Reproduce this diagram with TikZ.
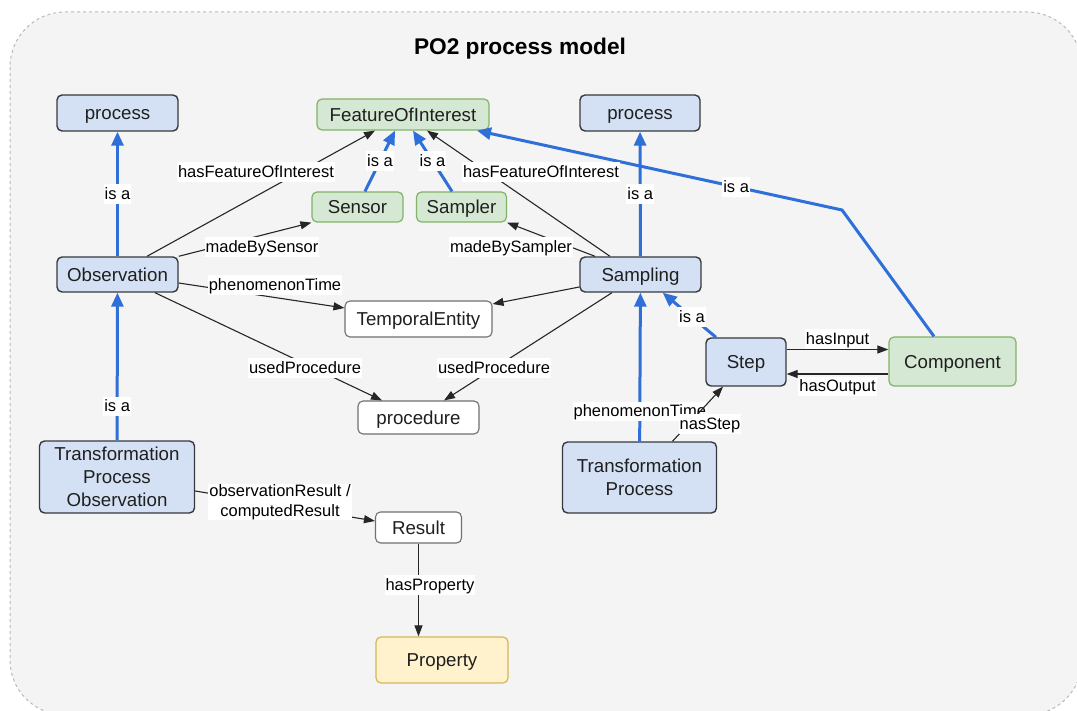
\documentclass[tikz,border=0pt]{standalone}
\usepackage{fontspec}
\setmainfont{Liberation Sans}
\usetikzlibrary{arrows.meta,calc}

\definecolor{classfill}{HTML}{D4E1F5}
\definecolor{classline}{HTML}{36393D}
\definecolor{greenfill}{HTML}{D5E8D4}
\definecolor{greenline}{HTML}{82B366}
\definecolor{plainline}{HTML}{707070}
\definecolor{yellowfill}{HTML}{FFF2CC}
\definecolor{yellowline}{HTML}{D6B656}
\definecolor{isablue}{HTML}{2E6FD8}
\definecolor{panelfill}{HTML}{F4F4F4}

\begin{document}
\begin{tikzpicture}[x=1pt,y=-1pt,% pixel coordinates, y running down
        every node/.style={font=\fontsize{18.7}{23}\selectfont, text=black!88},
        basebox/.style={draw, rounded corners=5pt, line width=1.4pt, inner sep=0pt, align=center},
        box/.style={basebox, text height=13.4pt, text depth=0pt},% one line, caps centred
        bluebox/.style={box, draw=classline, fill=classfill},
        bluemulti/.style={basebox, draw=classline, fill=classfill},
        greenbox/.style={box, draw=greenline, fill=greenfill, line width=1.2pt},
        plainbox/.style={box, draw=plainline, fill=white, line width=1.1pt},
        yellowbox/.style={box, draw=yellowline, fill=yellowfill, line width=1.2pt},
        isa/.style={draw=isablue, line width=3pt, -{Triangle[length=14pt,width=12pt]}},
        rel/.style={draw=black!85, line width=1.1pt, -{Triangle[length=11pt,width=8pt]}},
        lbl/.style={fill=white, inner sep=1pt, text height=14pt, text depth=3.5pt,
                font=\fontsize{16.5}{19.5}\selectfont, text=black}]
\useasboundingbox (0,0) rectangle (1077,711);
\clip (0,0) rectangle (1077,711);
\draw[draw=gray!55, line width=1pt, dash pattern=on 3pt off 3pt, fill=panelfill, rounded corners=55pt]
        (10,12) rectangle (1082,715); % panel runs past the right and bottom edge
\node[font=\fontsize{22.7}{26}\selectfont\bfseries, text=black] (title) at (520,49) {PO2 process model};

% classes
\node[bluebox, minimum width=121pt, minimum height=36pt] (processleft) at (117.5,113) {process};
\node[greenbox, minimum width=172pt, minimum height=31pt] (feature) at (403,114.5) {FeatureOfInterest};
\node[bluebox, minimum width=120pt, minimum height=36pt] (processright) at (640,113) {process};
\node[greenbox, minimum width=91pt, minimum height=30pt] (sensor) at (357.5,207) {Sensor};
\node[greenbox, minimum width=90pt, minimum height=30pt] (sampler) at (461.5,207) {Sampler};
\node[bluebox, minimum width=121pt, minimum height=35pt] (observation) at (117.5,274.5) {Observation};
\node[bluebox, minimum width=121pt, minimum height=35pt] (sampling) at (640.5,274.5) {Sampling};
\node[plainbox, minimum width=147pt, minimum height=36pt] (temporal) at (418.5,319) {TemporalEntity};
\node[plainbox, minimum width=121pt, minimum height=33pt] (procedure) at (418.5,417.5) {procedure};
\node[bluebox, minimum width=80pt, minimum height=48pt] (step) at (746,362) {Step};
\node[greenbox, minimum width=127pt, minimum height=49pt] (component) at (952.5,361.5) {Component};
\node[bluemulti, minimum width=155pt, minimum height=72pt] (transobs) at (117,477) {Transformation\\Process\\Observation};
\node[bluemulti, minimum width=154pt, minimum height=71pt] (transproc) at (639.5,477.5) {Transformation\\Process};
\node[plainbox, minimum width=86pt, minimum height=31pt] (result) at (418.5,527.5) {Result};
\node[yellowbox, minimum width=132pt, minimum height=46pt] (property) at (442,660) {Property};

% subclass links
\draw[isa] (observation) -- node[lbl] (isa-1) {is a} (processleft);
\draw[isa] (transobs) -- node[lbl, pos=0.23] (isa-2) {is a} (observation);
\draw[isa] (sampling) -- node[lbl] (isa-3) {is a} (processright);
\draw[isa] (transproc) -- node[lbl, pos=0.2] (isa-4) {phenomenonTime} (sampling);
\draw[isa] ([xshift=-30pt]step.north) -- node[lbl, pos=0.45] (isa-5) {is a} ([xshift=-39pt]sampling.south east);
\draw[isa] ([xshift=7.5pt]sensor.north) -- node[lbl] (isa-6) {is a} ([xshift=-8pt]feature.south);
\draw[isa] ([xshift=-9.5pt]sampler.north) -- node[lbl] (isa-7) {is a} ([xshift=10pt]feature.south);
\coordinate (bend) at (842,210);
\draw[isa] ([xshift=-18.5pt]component.north) -- (bend) -- node[lbl, pos=0.29] (isa-8) {is a} ([xshift=74pt]feature.south);

% properties
\draw[rel] ([xshift=29.5pt]observation.north) -- ([xshift=-28pt]feature.south);
\draw[rel] ([xshift=-30.5pt]sampling.north) -- ([xshift=24pt]feature.south);
\draw[rel] (observation.north east) -- (sensor.south west);
\draw[rel] ([xshift=-45.5pt]sampling.north) -- (sampler.south east);
\draw[rel] ([yshift=-8.5pt]observation.east) -- ([yshift=11pt]temporal.west);
\draw[rel] ([yshift=-12.5pt]sampling.west) -- ([yshift=15pt]temporal.east);
\draw[rel] ([xshift=37.5pt]observation.south) -- ([xshift=-36.5pt]procedure.north);
\draw[rel] ([xshift=-28.5pt]sampling.south) -- ([xshift=25.5pt]procedure.north);
\draw[rel] ([xshift=33pt]transproc.north) -- ([xshift=-23pt]step.south);
\draw[rel] ([yshift=12.5pt]step.east) -- node[lbl, above=0pt] (rel-in) {hasInput} ([yshift=12.5pt]step.east -| component.west);
\draw[rel] ([yshift=-12.5pt]component.west) -- node[lbl, below=2pt] (rel-out) {hasOutput} ([yshift=-12.5pt]component.west -| step.east);
\draw[rel] ([yshift=-14pt]transobs.east) -- ([yshift=6.5pt]result.west);
\draw[rel] (result.south) -- (result.south |- property.north);

\foreach[count=\i] \x/\y/\txt in {256/172/hasFeatureOfInterest, 541/172/hasFeatureOfInterest,
        262/247/madeBySensor, 511/247/madeBySampler, 275/285/phenomenonTime,
        305/368/usedProcedure, 494/368/usedProcedure, 710/424/nasStep, 430/585/hasProperty}{
\node[lbl] (rel-\i) at (\x,\y) {\txt}; % labels sit over their lines
}
\node[lbl, text height=, text depth=, align=center] (rel-res) at (280,502) {observationResult /\\computedResult};

\end{tikzpicture}
\end{document}
